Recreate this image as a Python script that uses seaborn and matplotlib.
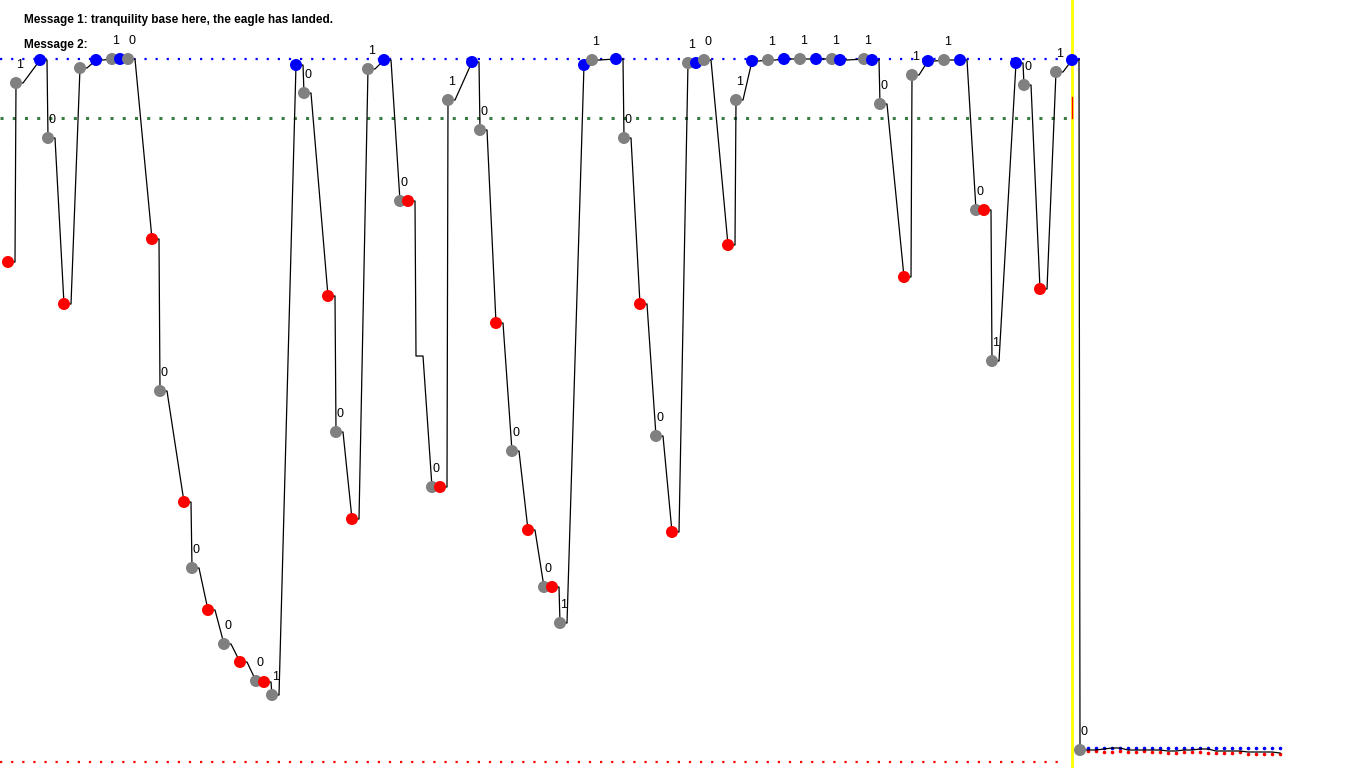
import matplotlib
matplotlib.use("Agg")
import matplotlib.pyplot as plt
import seaborn as sns
import pandas as pd

# point positions (pixel-like units, y down)
xs = [8, 16, 40, 48, 64, 80, 96, 112, 120, 128, 152, 160, 184, 192, 208, 224, 240, 256, 264, 272,
      296, 304, 328, 336, 352, 368, 384, 400, 408, 416, 432, 440, 448, 472, 480, 496, 512, 528, 544, 552,
      560, 584, 592, 616, 624, 640, 656, 672, 688, 696, 704, 728, 736, 752, 768, 784, 800, 816, 832, 840,
      864, 872, 880, 904, 912, 928, 944, 960, 976, 984, 992, 1016, 1024, 1040, 1056, 1072, 1080]
ys = [262, 83, 60, 138, 304, 68, 60, 59, 59, 59, 239, 391, 502, 568, 610, 644, 662, 681, 682, 695,
      65, 93, 296, 432, 519, 69, 60, 201, 201, 356, 487, 487, 100, 62, 130, 323, 451, 530, 587, 587,
      623, 65, 60, 59, 138, 304, 436, 532, 63, 63, 60, 245, 100, 61, 60, 59, 59, 59, 59, 60,
      59, 60, 104, 277, 75, 61, 60, 60, 210, 210, 361, 63, 85, 289, 72, 60, 750]
kinds = ["r", "g", "b", "g", "r", "g", "b", "g", "b", "g", "r", "g", "r", "g", "r", "g", "r", "g", "r", "g",
         "b", "g", "r", "g", "r", "g", "b", "g", "r", "n", "g", "r", "g", "b", "g", "r", "g", "r", "g", "r",
         "g", "b", "g", "b", "g", "r", "g", "r", "g", "b", "g", "r", "g", "b", "g", "b", "g", "b", "g", "b",
         "g", "b", "g", "r", "g", "b", "g", "b", "g", "r", "g", "b", "g", "r", "g", "b", "g"]
labels = ["", "1", "", "0", "", "", "", "1", "", "0", "", "0", "", "0", "", "0", "", "0", "", "1",
          "", "0", "", "0", "", "1", "", "0", "", "", "0", "", "1", "", "0", "", "0", "", "0", "",
          "1", "", "1", "", "0", "", "0", "", "1", "", "0", "", "1", "", "1", "", "1", "", "1", "",
          "1", "", "0", "", "1", "", "1", "", "0", "", "1", "", "0", "", "1", "", "0"]

# tail after the yellow marker
tail_x = [1088 + 8 * i for i in range(25)]
tail_black = [750, 750, 749, 748, 748, 750, 750, 750, 750, 750, 751, 751, 750, 750, 749, 749,
              751, 751, 751, 751, 752, 752, 752, 752, 753]
tail_red = [751, 751, 752, 752, 751, 752, 752, 751, 752, 752, 753, 753, 752, 752, 752, 753,
            753, 753, 753, 752, 754, 754, 754, 754, 754]
tail_blue = [748] * 25

fig = plt.figure(figsize=(13.66, 7.68), dpi=100)
ax = fig.add_axes([0, 0, 1, 1])
ax.set_xlim(0, 1366)
ax.set_ylim(768, 0)
ax.axis("off")

# reference lines
ax.plot([0, 1080], [59, 59], color="blue", ls=(0, (1, 4)), lw=1.6)
ax.plot([0, 1072], [118, 118], color="#3a7d44", ls=(0, (1, 3)), lw=2.2)
ax.plot([0, 1064], [762, 762], color="red", ls=(0, (1, 4)), lw=1.6)
ax.axvline(1072, color="yellow", lw=2)
ax.plot([1072, 1072], [97, 118], color="red", lw=1)

# stepped path
px, py = [], []
for x, y in zip(xs, ys):
    px += [x, x + 7]
    py += [y, y]
px += tail_x
py += tail_black
ax.plot(px, py, color="black", lw=0.9, zorder=2)

df = pd.DataFrame({"x": xs, "y": ys, "k": kinds})
df = df[df.k != "n"]
sns.scatterplot(data=df, x="x", y="y", hue="k", palette={"r": "red", "g": "gray", "b": "blue"},
                s=75, linewidth=0, legend=False, ax=ax, zorder=3)
ax.scatter(tail_x, tail_blue, s=2.5, color="blue", zorder=1)
ax.scatter(tail_x, tail_red, s=2.5, color="red", zorder=1)

for x, y, t in zip(xs, ys, labels):
    if t:
        ax.text(x + 4, y - 18, t, fontsize=9, family="Liberation Sans", ha="center", va="center")

ax.text(24, 20, "Message 1: tranquility base here, the eagle has landed.", fontsize=8.5,
        family="Liberation Sans", va="center", fontweight="bold")
ax.text(24, 45, "Message 2:", fontsize=8.5, family="Liberation Sans", va="center", fontweight="bold")
ax.set_xlabel("")
ax.set_ylabel("")

fig.savefig("out.png", dpi=100)
